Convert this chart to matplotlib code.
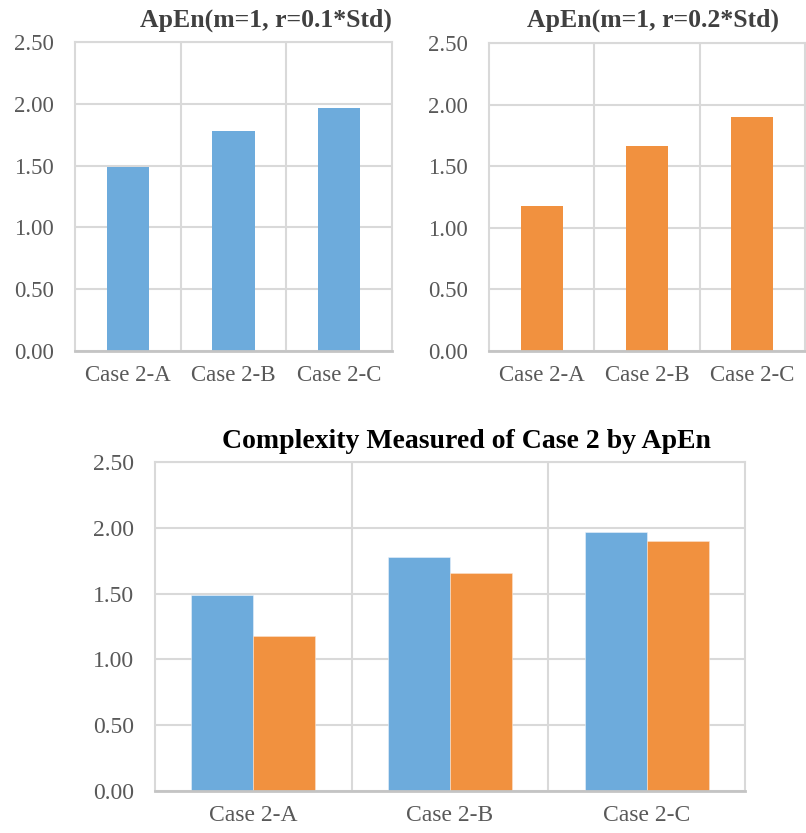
import numpy as np
import matplotlib
matplotlib.use('Agg')
import matplotlib.pyplot as plt

# ApEn values for the three Case 2 signals
cases = ['Case 2-A', 'Case 2-B', 'Case 2-C']
apen_r01 = [1.49, 1.78, 1.97]
apen_r02 = [1.18, 1.66, 1.90]
y_ticks = [0.0, 0.5, 1.0, 1.5, 2.0, 2.5]

BLUE = '#6DABDC'
ORANGE = '#F1913F'
GRID = '#D9D9D9'
TEXT = '#595959'

plt.rcParams['font.family'] = ['Liberation Serif', 'DejaVu Serif']


def style_axes(ax, tick_size):
    """Excel-like look: light grid, category separators, no tick marks."""
    ax.set_xlim(-0.5, len(cases) - 0.5)
    ax.set_ylim(0, 2.5)
    ax.set_yticks(y_ticks)
    ax.set_yticklabels([f'{v:.2f}' for v in y_ticks])
    ax.set_xticks(np.arange(len(cases)))
    ax.set_xticklabels(cases)
    ax.set_xticks(np.arange(len(cases) - 1) + 0.5, minor=True)
    ax.grid(axis='y', color=GRID, lw=1.5)
    ax.grid(axis='x', which='minor', color=GRID, lw=1.5)
    ax.set_axisbelow(True)
    ax.tick_params(axis='both', which='both', length=0, colors=TEXT,
                   labelsize=tick_size)
    ax.tick_params(axis='y', pad=15)
    ax.tick_params(axis='x', pad=10)
    for side in ['left', 'top', 'right']:
        ax.spines[side].set_color(GRID)
        ax.spines[side].set_linewidth(1.5)
    ax.spines['bottom'].set_color('#C4C4C4')
    ax.spines['bottom'].set_linewidth(2)


fig = plt.figure(figsize=(8.06, 8.33), dpi=100)

# r = 0.1*Std
ax1 = fig.add_axes([75 / 806, 1 - 351 / 833, 317 / 806, 309 / 833])
ax1.bar(np.arange(len(cases)), apen_r01, width=0.4, color=BLUE)
style_axes(ax1, 16.5)
fig.text(266 / 806, 1 - 20 / 833, 'ApEn(m=1, r=0.1*Std)', ha='center',
         va='center', fontsize=18.5, fontweight='bold', color='#404040')

# r = 0.2*Std
ax2 = fig.add_axes([489 / 806, 1 - 351 / 833, 316 / 806, 308 / 833])
ax2.bar(np.arange(len(cases)), apen_r02, width=0.4, color=ORANGE)
style_axes(ax2, 16.5)
fig.text(653 / 806, 1 - 20 / 833, 'ApEn(m=1, r=0.2*Std)', ha='center',
         va='center', fontsize=18.5, fontweight='bold', color='#404040')

# both radii side by side
ax3 = fig.add_axes([155 / 806, 42 / 833, 590 / 806, 329 / 833])
x = np.arange(len(cases))
w = 0.315
ax3.bar(x - w / 2, apen_r01, width=w, color=BLUE, edgecolor='#EAF2FA', lw=0.4)
ax3.bar(x + w / 2, apen_r02, width=w, color=ORANGE, edgecolor='#FBE3D0', lw=0.4)
style_axes(ax3, 17)
fig.text(466 / 806, 1 - 442 / 833, 'Complexity Measured of Case 2 by ApEn',
         ha='center', va='center', fontsize=20, fontweight='bold',
         color='#000000')

fig.savefig('out.png', dpi=100)
